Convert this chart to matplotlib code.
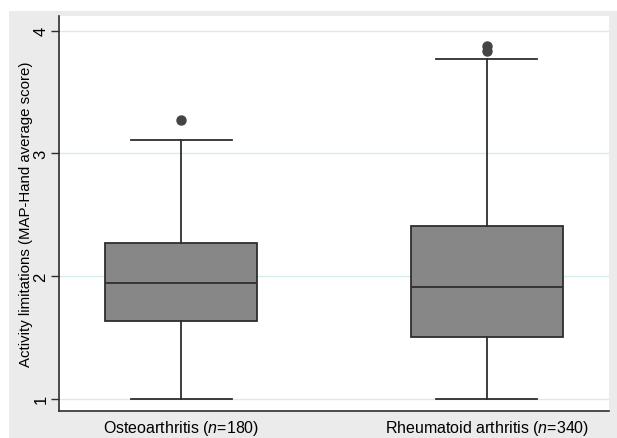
import matplotlib
matplotlib.use("Agg")
import matplotlib.pyplot as plt
from matplotlib.patches import Rectangle

categories = ["Osteoarthritis", "Rheumatoid arthritis"]
n_values = [180, 340]
whislo = [1.0, 1.0]
q1 = [1.636, 1.505]
med = [1.945, 1.91]
q3 = [2.27, 2.41]
whishi = [3.11, 3.77]
fliers = [[3.27], [3.835, 3.875]]
yticks = [1, 2, 3, 4]

plt.rcParams['font.family'] = ['Liberation Sans', 'DejaVu Sans']
plt.rcParams['mathtext.fontset'] = 'custom'
plt.rcParams['mathtext.rm'] = 'Liberation Sans'
plt.rcParams['mathtext.it'] = 'Liberation Sans:italic'

W, H = 617, 439
fig = plt.figure(figsize=(W / 100, H / 100), dpi=100, facecolor='white')
fig.patches.append(Rectangle((9 / W, 0), 1 - 9 / W, 1 - 12 / H,
                             transform=fig.transFigure, facecolor='#ebebeb',
                             edgecolor='none', zorder=-10))
ax = fig.add_axes([59 / W, (H - 412) / H, 550 / W, 395 / H])
ax.set_facecolor('white')

stats = []
for i, c in enumerate(categories):
    stats.append(dict(label=c, whislo=whislo[i], q1=q1[i], med=med[i],
                      q3=q3[i], whishi=whishi[i], fliers=fliers[i]))

edge = '#2e2e2e'
ax.bxp(stats, positions=[1, 2], widths=0.497, capwidths=0.33,
       patch_artist=True, showfliers=True,
       boxprops=dict(facecolor='#878787', edgecolor=edge, linewidth=1.3),
       medianprops=dict(color=edge, linewidth=1.3),
       whiskerprops=dict(color=edge, linewidth=1.3),
       capprops=dict(color=edge, linewidth=1.3),
       flierprops=dict(marker='o', markerfacecolor='#444444',
                       markeredgecolor='#444444', markersize=6.5))

ax.set_xlim(0.601, 2.399)
ax.set_ylim(0.9, 4.12)
ax.set_yticks(yticks)
ax.set_yticklabels([str(t) for t in yticks], rotation=90, va='center')
ax.set_xticks([1, 2])
ax.set_xticklabels([f"{c} ($\\mathit{{n}}$={n})" for c, n in zip(categories, n_values)],
                   fontsize=11.5)
ax.tick_params(axis='x', length=0, pad=5)
ax.tick_params(axis='y', length=6, width=1, color=edge, labelsize=12, pad=1.5)
ax.grid(axis='y', color='#d6ecec', linewidth=1)
ax.set_axisbelow(True)
for s in ['top', 'right']:
    ax.spines[s].set_visible(False)
for s in ['left', 'bottom']:
    ax.spines[s].set_color(edge)
    ax.spines[s].set_linewidth(1.2)
ax.set_ylabel("Activity limitations (MAP-Hand average score)", fontsize=10.8)
ax.yaxis.set_label_coords(-0.048, 0.5)

fig.savefig("out.png", dpi=100, facecolor=fig.get_facecolor())
